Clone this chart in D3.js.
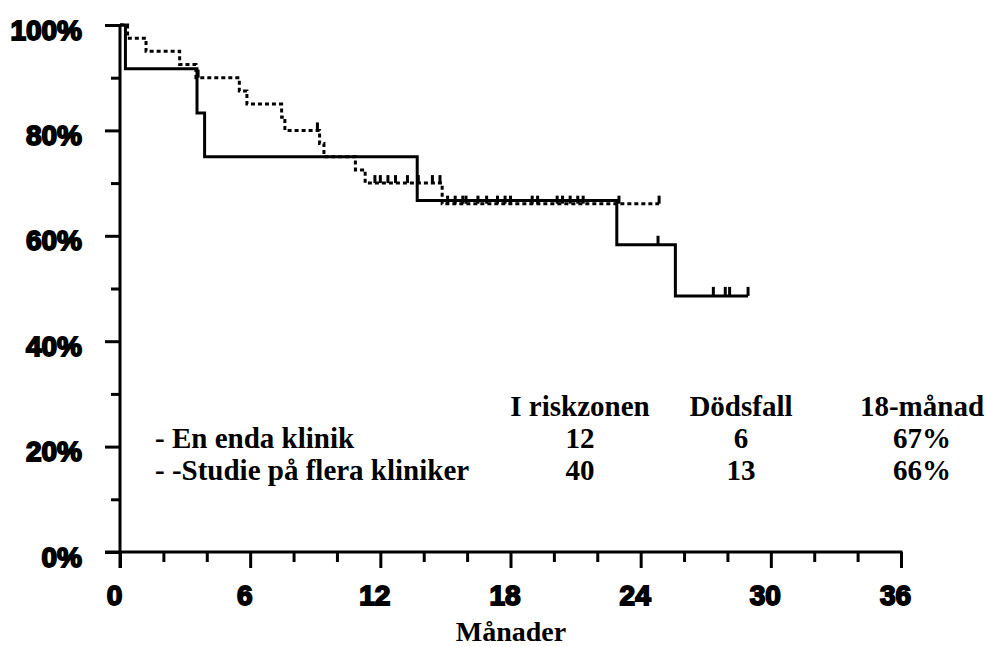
<!DOCTYPE html>
<html>
<head>
<meta charset="utf-8">
<script src="https://cdn.jsdelivr.net/npm/d3@7"></script>
<style>
  body { margin: 0; background: #fff; }
  svg { display: block; }
</style>
</head>
<body>
<svg id="chart"></svg>
<script>
// axis ticks
const xTicks = [0, 6, 12, 18, 24, 30, 36];
const xMinorTicks = [2, 4, 8, 10, 14, 16, 20, 22, 26, 28, 32, 34];
const yTicks = [0, 20, 40, 60, 80, 100];
const yMinorTicks = [10, 30, 50, 70, 90];

// single clinic curve (solid) - months / survival %
const soloTimes = [0, 0.25, 3.55, 3.9, 13.7, 22.9, 25.6];
const soloSurv = [100, 91.7, 83.3, 75.0, 66.7, 58.3, 48.6];
const soloEnd = 28.95;
const soloCensor = [24.8, 27.35, 27.9, 28.1, 28.95];

// multi clinic curve (dotted)
const multiTimes = [0, 0.35, 1.2, 2.75, 3.5, 5.5, 5.85, 7.45, 7.6, 9.2, 9.4, 10.85, 11.3, 14.85];
const multiSurv = [100, 97.5, 95, 92.5, 90, 87.5, 85, 82.5, 80, 77.5, 75, 72.5, 70, 66.1];
const multiEnd = 24.85;
const multiCensor = [3.6, 9.1, 11.75, 12.0, 12.35, 12.7, 13.25, 13.75, 14.4, 14.75,
  15.1, 15.45, 15.8, 15.95, 16.5, 16.9, 17.4, 17.75, 18.0, 19.0, 19.25, 20.15, 20.4,
  20.75, 21.1, 21.35, 23.0, 24.85];

// legend table
const legendHeaders = ["I riskzonen", "Dödsfall", "18-månad"];
const legendLabels = ["- En enda klinik", "- -Studie på flera kliniker"];
const atRisk = [12, 40];
const deaths = [6, 13];
const surv18 = ["67%", "66%"];

const W = 987, H = 647;
const svg = d3.select("#chart").attr("width", W).attr("height", H);

const x = d3.scaleLinear().domain([0, 36]).range([120, 901]);
const y = d3.scaleLinear().domain([0, 100]).range([552, 25]);

const tickFont = "'Liberation Sans', Arial, sans-serif";
const serif = "'Liberation Serif', 'Times New Roman', serif";

// minor ticks first
svg.append("g")
  .attr("transform", `translate(${x(0)},0)`)
  .call(d3.axisLeft(y).tickValues(yMinorTicks).tickSize(9).tickFormat(""))
  .call(g => g.select(".domain").remove());
svg.append("g")
  .attr("transform", `translate(0,${y(0)})`)
  .call(d3.axisBottom(x).tickValues(xMinorTicks).tickSize(10).tickFormat(""))
  .call(g => g.select(".domain").remove());

// major ticks + labels
const yAxis = svg.append("g")
  .attr("transform", `translate(${x(0)},0)`)
  .call(d3.axisLeft(y).tickValues(yTicks).tickSize(15).tickPadding(23).tickFormat(d => d + "%"))
  .call(g => g.select(".domain").remove());
yAxis.selectAll("text").attr("dy", "0.5em");

const xAxis = svg.append("g")
  .attr("transform", `translate(0,${y(0)})`)
  .call(d3.axisBottom(x).tickValues(xTicks).tickSize(16).tickPadding(17))
  .call(g => g.select(".domain").remove());
xAxis.selectAll("text").attr("dx", -6);

svg.selectAll(".tick line").attr("stroke", "#000").attr("stroke-width", 3);
svg.selectAll(".tick text")
  .style("font-family", tickFont)
  .style("font-size", "28px")
  .style("font-weight", "bold")
  .attr("fill", "#000")
  .attr("stroke", "#000")
  .attr("stroke-width", 1.8);

// axis lines
svg.append("line")
  .attr("x1", x(0)).attr("x2", x(0))
  .attr("y1", y(100) - 1).attr("y2", y(0) + 16)
  .attr("stroke", "#000").attr("stroke-width", 3);
svg.append("line")
  .attr("x1", x(0) - 15).attr("x2", x(36) + 1.5)
  .attr("y1", y(0)).attr("y2", y(0))
  .attr("stroke", "#000").attr("stroke-width", 3);

// step curves
const stepLine = d3.line()
  .x(d => x(d[0]))
  .y(d => y(d[1]))
  .curve(d3.curveStepAfter);

function curvePoints(times, surv, end) {
  const pts = times.map((t, i) => [t, surv[i]]);
  pts.push([end, surv[surv.length - 1]]);
  return pts;
}
function survAt(times, surv, t) {
  let s = surv[0];
  times.forEach((tt, i) => { if (tt <= t) s = surv[i]; });
  return s;
}

svg.append("path")
  .datum(curvePoints(multiTimes, multiSurv, multiEnd))
  .attr("d", stepLine)
  .attr("fill", "none")
  .attr("stroke", "#000")
  .attr("stroke-width", 3)
  .attr("stroke-dasharray", "4,3");

svg.selectAll(".multi-censor")
  .data(multiCensor)
  .enter().append("line")
  .attr("class", "multi-censor")
  .attr("x1", d => x(d)).attr("x2", d => x(d))
  .attr("y1", d => y(survAt(multiTimes, multiSurv, d)))
  .attr("y2", d => y(survAt(multiTimes, multiSurv, d)) - 8)
  .attr("stroke", "#000").attr("stroke-width", 3);

svg.append("path")
  .datum(curvePoints(soloTimes, soloSurv, soloEnd))
  .attr("d", stepLine)
  .attr("fill", "none")
  .attr("stroke", "#000")
  .attr("stroke-width", 3);

svg.selectAll(".solo-censor")
  .data(soloCensor)
  .enter().append("line")
  .attr("class", "solo-censor")
  .attr("x1", d => x(d)).attr("x2", d => x(d))
  .attr("y1", d => y(survAt(soloTimes, soloSurv, d)))
  .attr("y2", d => y(survAt(soloTimes, soloSurv, d)) - 9)
  .attr("stroke", "#000").attr("stroke-width", 3);

// legend table
const colX = [580, 741, 922];
const rowY = [448, 480];
const leg = svg.append("g")
  .style("font-family", serif)
  .style("font-size", "29px")
  .style("font-weight", "bold")
  .attr("fill", "#000");

leg.selectAll(".hdr")
  .data(legendHeaders)
  .enter().append("text")
  .attr("x", (d, i) => colX[i])
  .attr("y", 416)
  .attr("text-anchor", "middle")
  .text(d => d);

legendLabels.forEach((lab, i) => {
  leg.append("text").attr("x", 155).attr("y", rowY[i]).text(lab);
  [atRisk[i], deaths[i], surv18[i]].forEach((v, j) => {
    leg.append("text")
      .attr("x", colX[j]).attr("y", rowY[i])
      .attr("text-anchor", "middle")
      .text(v);
  });
});

// x axis title
svg.append("text")
  .attr("x", 511)
  .attr("y", 641)
  .attr("text-anchor", "middle")
  .style("font-family", serif)
  .style("font-size", "28px")
  .style("font-weight", "bold")
  .text("Månader");
</script>
</body>
</html>
